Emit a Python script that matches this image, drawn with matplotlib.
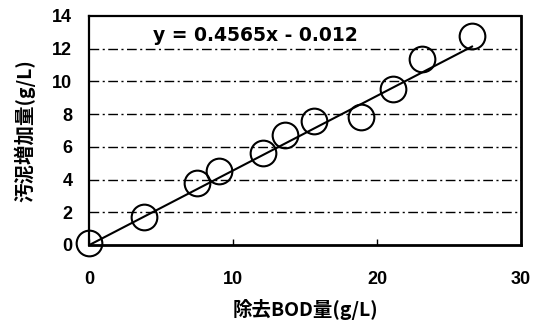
import numpy as np
import matplotlib.pyplot as plt

plt.rcParams['font.family'] = ['Liberation Sans', 'Noto Sans CJK JP', 'DejaVu Sans']

# data
bod_removed = [0.0, 3.8, 7.5, 9.0, 12.1, 13.6, 15.6, 18.9, 21.1, 23.1, 26.6]
sludge_increase = [0.15, 1.7, 3.8, 4.5, 5.65, 6.7, 7.6, 7.85, 9.55, 11.35, 12.8]
slope = 0.4565
intercept = -0.012
x_ticks = [0, 10, 20, 30]
y_ticks = [0, 2, 4, 6, 8, 10, 12, 14]

fig = plt.figure(figsize=(5.44, 3.21), dpi=100)
ax = fig.add_axes([0.1636, 0.2368, 0.7941, 0.7134])

# grid lines (dash-dot)
for yv in y_ticks[1:-1]:
    ax.axhline(yv, color='black', linewidth=1.0, linestyle=(0, (7, 2.5, 1.5, 2.5)), zorder=1)

# trend line
xl = np.array([min(bod_removed), max(bod_removed)])
ax.plot(xl, slope * xl + intercept, color='black', linewidth=1.5, zorder=2)

ax.plot(bod_removed, sludge_increase, linestyle='none', marker='o', markersize=18.5,
        markerfacecolor='none', markeredgecolor='black', markeredgewidth=1.5,
        clip_on=False, zorder=3)

ax.text(4.45, 12.8, 'y = 0.4565x - 0.012', family='DejaVu Sans', fontweight='bold',
        fontsize=13.5, ha='left', va='center')

ax.set_xlim(0, 30)
ax.set_ylim(0, 14)
ax.set_xticks(x_ticks)
ax.set_yticks(y_ticks)
ax.tick_params(axis='x', direction='in', length=4, width=1, pad=19, labelsize=13)
ax.tick_params(axis='y', direction='in', length=0, pad=12, labelsize=13)
for lab in ax.get_xticklabels() + ax.get_yticklabels():
    lab.set_fontweight('bold')

for sp in ax.spines.values():
    sp.set_linewidth(1.6)
    sp.set_color('black')
ax.spines['right'].set_linewidth(2)
ax.spines['bottom'].set_linewidth(2)

ax.set_xlabel('除去BOD量(g/L)', fontsize=14, fontweight='bold',
              family=['Noto Sans CJK JP', 'DejaVu Sans'], va='center', ha='center')
ax.xaxis.set_label_coords(0.5, -0.28)
ax.set_ylabel('汚泥増加量(g/L)', fontsize=14, fontweight='bold',
              family=['Noto Sans CJK JP', 'DejaVu Sans'], va='center', ha='center')
ax.yaxis.set_label_coords(-0.148, 0.5)

fig.savefig('out.png', dpi=100, facecolor='white')
